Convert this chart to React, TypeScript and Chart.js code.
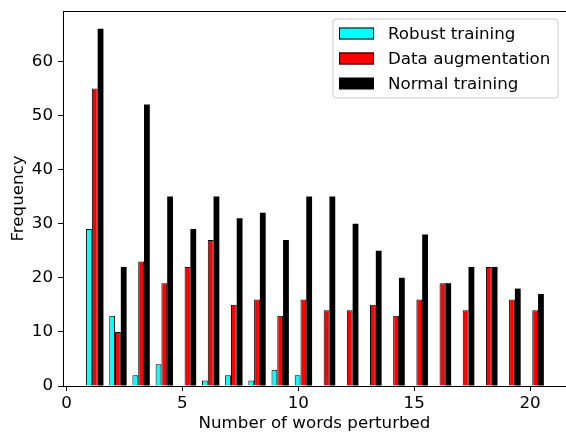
import React, { useEffect, useRef } from "react";
import { Chart, registerables } from "chart.js";

Chart.register(...registerables);

// ---- data ----
const bins = [1, 2, 3, 4, 5, 6, 7, 8, 9, 10, 11, 12, 13, 14, 15, 16, 17, 18, 19, 20];
const robustTraining = [29, 13, 2, 4, 0, 1, 2, 1, 3, 2, 0, 0, 0, 0, 0, 0, 0, 0, 0, 0];
const dataAugmentation = [55, 10, 23, 19, 22, 27, 15, 16, 13, 16, 14, 14, 15, 13, 16, 19, 14, 22, 16, 14];
const normalTraining = [66, 22, 52, 35, 29, 35, 31, 32, 27, 35, 35, 30, 25, 20, 28, 19, 22, 22, 18, 17];
const seriesLabels = ["Robust training", "Data augmentation", "Normal training"];
const xTickValues = [0, 5, 10, 15, 20];
const yTickValues = [0, 10, 20, 30, 40, 50, 60];
const xTitle = "Number of words perturbed";
const yTitle = "Frequency";

// histogram group centre sits slightly right of the bin value
const BIN_OFFSET = 0.22;

const FONT = "DejaVu Sans";
const FS = 16.7;

const frameAndLegend = {
  id: "frameAndLegend",
  afterDraw(chart: any) {
    const { ctx, chartArea } = chart;
    ctx.save();
    // top spine
    ctx.strokeStyle = "#000";
    ctx.lineWidth = 1;
    ctx.beginPath();
    ctx.moveTo(chartArea.left, Math.round(chartArea.top) + 0.5);
    ctx.lineTo(chartArea.right, Math.round(chartArea.top) + 0.5);
    ctx.stroke();

    // legend
    const lx = 333, ly = 19, lw = 225, lh = 79, r = 3;
    ctx.beginPath();
    ctx.moveTo(lx + r, ly);
    ctx.lineTo(lx + lw - r, ly);
    ctx.quadraticCurveTo(lx + lw, ly, lx + lw, ly + r);
    ctx.lineTo(lx + lw, ly + lh - r);
    ctx.quadraticCurveTo(lx + lw, ly + lh, lx + lw - r, ly + lh);
    ctx.lineTo(lx + r, ly + lh);
    ctx.quadraticCurveTo(lx, ly + lh, lx, ly + lh - r);
    ctx.lineTo(lx, ly + r);
    ctx.quadraticCurveTo(lx, ly, lx + r, ly);
    ctx.closePath();
    ctx.fillStyle = "rgba(255,255,255,0.8)";
    ctx.fill();
    ctx.strokeStyle = "#cccccc";
    ctx.stroke();

    ctx.font = `${FS}px "${FONT}"`;
    ctx.textBaseline = "alphabetic";
    ctx.textAlign = "left";
    chart.data.datasets.forEach((ds: any, i: number) => {
      const hy = 27.5 + i * 25;
      ctx.fillStyle = ds.backgroundColor;
      ctx.fillRect(339, hy, 35, 12);
      if (ds.borderWidth > 0) {
        ctx.strokeStyle = ds.borderColor;
        ctx.lineWidth = 1;
        ctx.strokeRect(339.5, hy + 0.5, 34, 11);
      }
      ctx.fillStyle = "#000";
      ctx.fillText(ds.label, 388, 38.5 + i * 25);
    });
    ctx.restore();
  },
};

export default function App() {
  const canvasRef = useRef<HTMLCanvasElement | null>(null);

  useEffect(() => {
    const canvas = canvasRef.current;
    if (!canvas) return;
    const mk = (vals: number[]) => bins.map((b, i) => ({ x: b + BIN_OFFSET, y: vals[i] }));
    const chart = new Chart(canvas, {
      type: "bar",
      data: {
        datasets: [
          {
            label: seriesLabels[0],
            data: mk(robustTraining),
            backgroundColor: "#00ffff",
            borderColor: "#000000",
            borderWidth: 1,
          },
          {
            label: seriesLabels[1],
            data: mk(dataAugmentation),
            backgroundColor: "#ff0000",
            borderColor: "#000000",
            borderWidth: 1,
          },
          {
            label: seriesLabels[2],
            data: mk(normalTraining),
            backgroundColor: "#000000",
            borderColor: "#000000",
            borderWidth: 0,
          },
        ],
      },
      options: {
        responsive: false,
        maintainAspectRatio: false,
        devicePixelRatio: 1,
        animation: false,
        layout: { autoPadding: false, padding: { top: 11, left: 0, right: 0, bottom: 0 } },
        datasets: {
          bar: { categoryPercentage: 0.75, barPercentage: 1.0 },
        },
        plugins: {
          legend: { display: false },
          tooltip: { enabled: false },
        },
        scales: {
          x: {
            type: "linear",
            min: -0.15,
            max: 21.55,
            offset: false,
            afterFit: (s: any) => {
              s.height = 46;
              s.paddingLeft = 0;
              s.paddingRight = 0;
            },
            afterBuildTicks: (s: any) => {
              s.ticks = xTickValues.map((v) => ({ value: v }));
            },
            ticks: {
              includeBounds: false,
              color: "#000",
              padding: 3,
              maxRotation: 0,
              font: { family: FONT, size: FS },
            },
            grid: {
              offset: false,
              drawOnChartArea: false,
              drawTicks: true,
              tickLength: 5,
              color: "#000",
            },
            border: { display: true, color: "#000", width: 1 },
            title: {
              display: true,
              text: xTitle,
              color: "#000",
              font: { family: FONT, size: FS, lineHeight: 1 },
              padding: { top: 0, bottom: 0 },
            },
          },
          y: {
            type: "linear",
            min: 0,
            max: 69.3,
            afterFit: (s: any) => {
              s.width = 63;
              s.paddingTop = 0;
              s.paddingBottom = 0;
            },
            afterBuildTicks: (s: any) => {
              s.ticks = yTickValues.map((v) => ({ value: v }));
            },
            ticks: {
              includeBounds: false,
              color: "#000",
              padding: 5,
              font: { family: FONT, size: FS },
            },
            grid: {
              drawOnChartArea: false,
              drawTicks: true,
              tickLength: 5,
              color: "#000",
            },
            border: { display: true, color: "#000", width: 1 },
            title: {
              display: true,
              text: yTitle,
              color: "#000",
              font: { family: FONT, size: FS, lineHeight: 1 },
              padding: { top: 10, bottom: 0 },
            },
          },
        },
      },
      plugins: [frameAndLegend],
    } as any);
    return () => chart.destroy();
  }, []);

  return (
    <div style={{ position: "fixed", left: 0, top: 0, width: 566, height: 432, background: "#fff" }}>
      <canvas ref={canvasRef} width={566} height={432} style={{ display: "block" }} />
    </div>
  );
}
